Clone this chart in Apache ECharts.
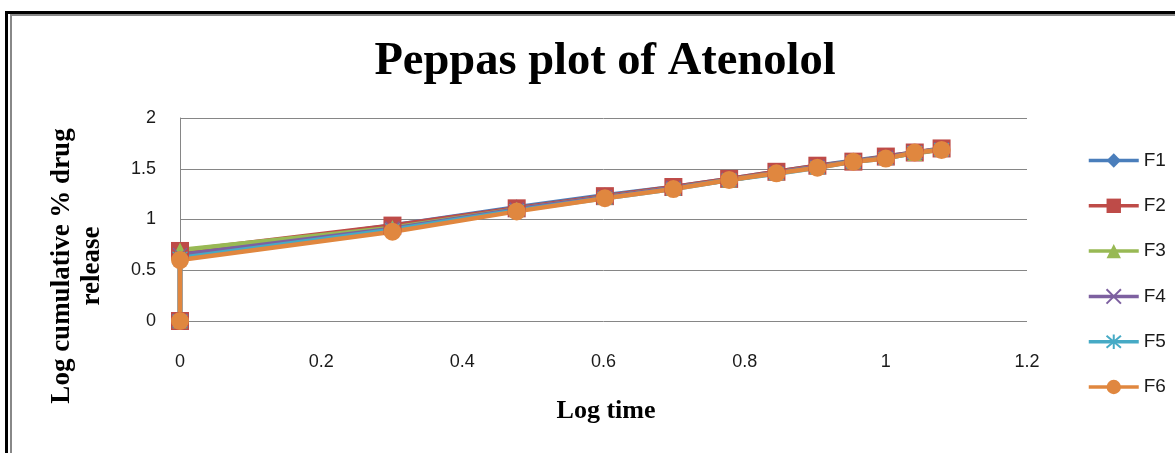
<!DOCTYPE html>
<html>
<head>
<meta charset="utf-8">
<script src="https://cdn.jsdelivr.net/npm/echarts@6/dist/echarts.min.js"></script>
<style>
html,body{margin:0;padding:0;background:#fff;}
#chart{width:1175px;height:453px;}
</style>
</head>
<body>
<div id="chart"></div>
<script>
// Log time values (first point: time 0 plotted at 0)
var logTime = [0, 0, 0.301, 0.477, 0.602, 0.699, 0.778, 0.845, 0.903, 0.954, 1.0, 1.041, 1.079];
var seriesNames = ['F1', 'F2', 'F3', 'F4', 'F5', 'F6'];
var F1 = [0, 0.66, 0.94, 1.12, 1.24, 1.32, 1.40, 1.47, 1.53, 1.58, 1.62, 1.66, 1.69];
var F2 = [0, 0.69, 0.94, 1.11, 1.23, 1.32, 1.40, 1.47, 1.53, 1.57, 1.62, 1.66, 1.70];
var F3 = [0, 0.70, 0.92, 1.10, 1.22, 1.31, 1.39, 1.46, 1.52, 1.57, 1.61, 1.65, 1.69];
var F4 = [0, 0.65, 0.91, 1.10, 1.22, 1.31, 1.39, 1.46, 1.52, 1.57, 1.61, 1.66, 1.69];
var F5 = [0, 0.62, 0.90, 1.09, 1.21, 1.30, 1.39, 1.45, 1.51, 1.57, 1.60, 1.66, 1.69];
var F6 = [0, 0.60, 0.88, 1.08, 1.21, 1.30, 1.39, 1.455, 1.51, 1.57, 1.60, 1.66, 1.685];
var xTicks = [0, 0.2, 0.4, 0.6, 0.8, 1, 1.2];
var yTicks = [0, 0.5, 1, 1.5, 2];

var allValues = [F1, F2, F3, F4, F5, F6];
var colors = ['#4a7ebb', '#be4b48', '#98b954', '#7d60a0', '#46aac5', '#e0873f'];
var symbols = [
  'diamond',
  'rect',
  'triangle',
  'path://M0,0L10,10M10,0L0,10',
  'path://M0,0L10,10M10,0L0,10M5,-1L5,11',
  'circle'
];
var symbolSizes = [[12, 16], 18, 15, 14, 15, 18];

function pairs(vals) {
  return vals.map(function (v, i) { return [logTime[i], v]; });
}

var series = seriesNames.map(function (name, i) {
  var isStroke = (i === 3 || i === 4);
  return {
    name: name,
    type: 'line',
    data: pairs(allValues[i]),
    symbol: symbols[i],
    symbolSize: symbolSizes[i],
    showAllSymbol: true,
    lineStyle: { color: colors[i], width: 4.5 },
    itemStyle: isStroke
      ? { color: 'rgba(0,0,0,0)', borderColor: colors[i], borderWidth: 1.2 }
      : { color: colors[i], borderWidth: 0 },
    emphasis: { disabled: true },
    animation: false
  };
});

var chart = echarts.init(document.getElementById('chart'));
chart.setOption({
  backgroundColor: '#ffffff',
  animation: false,
  grid: { left: 180, right: 148, top: 118, bottom: 132, containLabel: false },
  xAxis: {
    type: 'value',
    min: xTicks[0],
    max: xTicks[xTicks.length - 1],
    interval: 0.2,
    axisLine: { show: false },
    axisTick: { show: false },
    splitLine: { show: false },
    axisLabel: {
      margin: 32,
      fontFamily: 'Liberation Sans',
      fontSize: 18,
      color: '#1a1a1a',
      formatter: function (v) { return String(Math.round(v * 10) / 10); }
    }
  },
  yAxis: {
    type: 'value',
    min: yTicks[0],
    max: yTicks[yTicks.length - 1],
    interval: 0.5,
    axisLine: { show: true, lineStyle: { color: '#868686', width: 1 } },
    axisTick: { show: false },
    splitLine: { show: true, lineStyle: { color: '#868686', width: 1 } },
    axisLabel: {
      margin: 24,
      fontFamily: 'Liberation Sans',
      fontSize: 18,
      color: '#1a1a1a'
    }
  },
  legend: {
    orient: 'vertical',
    left: 1082,
    top: 146,
    itemWidth: 50,
    itemHeight: 18,
    itemGap: 26.3,
    lineStyle: { width: 3.5 },
    textStyle: { fontFamily: 'Liberation Sans', fontSize: 19, color: '#1a1a1a' },
    data: seriesNames
  },
  graphic: [
    { type: 'rect', shape: { x: 5, y: 11, width: 1200, height: 3 }, style: { fill: '#000' }, silent: true },
    { type: 'rect', shape: { x: 5, y: 11, width: 3, height: 500 }, style: { fill: '#000' }, silent: true },
    { type: 'rect', shape: { x: 10, y: 14, width: 1200, height: 2 }, style: { fill: '#888' }, silent: true },
    { type: 'rect', shape: { x: 10, y: 14, width: 2, height: 500 }, style: { fill: '#888' }, silent: true },
    {
      type: 'text', x: 605, y: 62, silent: true,
      style: {
        text: 'Peppas plot of Atenolol',
        fontFamily: 'Liberation Serif', fontWeight: 'bold', fontSize: 46.5,
        fill: '#000', textAlign: 'center', textVerticalAlign: 'middle', align: 'center', verticalAlign: 'middle'
      }
    },
    {
      type: 'text', x: 606, y: 411, silent: true,
      style: {
        text: 'Log time',
        fontFamily: 'Liberation Serif', fontWeight: 'bold', fontSize: 26,
        fill: '#000', textAlign: 'center', textVerticalAlign: 'middle', align: 'center', verticalAlign: 'middle'
      }
    },
    {
      type: 'text', x: 77, y: 266, rotation: Math.PI / 2, silent: true,
      style: {
        text: 'Log cumulative % drug\nrelease',
        fontFamily: 'Liberation Serif', fontWeight: 'bold', fontSize: 27, lineHeight: 30,
        fill: '#000', textAlign: 'center', textVerticalAlign: 'middle', align: 'center', verticalAlign: 'middle'
      }
    }
  ],
  series: series
});
</script>
</body>
</html>
